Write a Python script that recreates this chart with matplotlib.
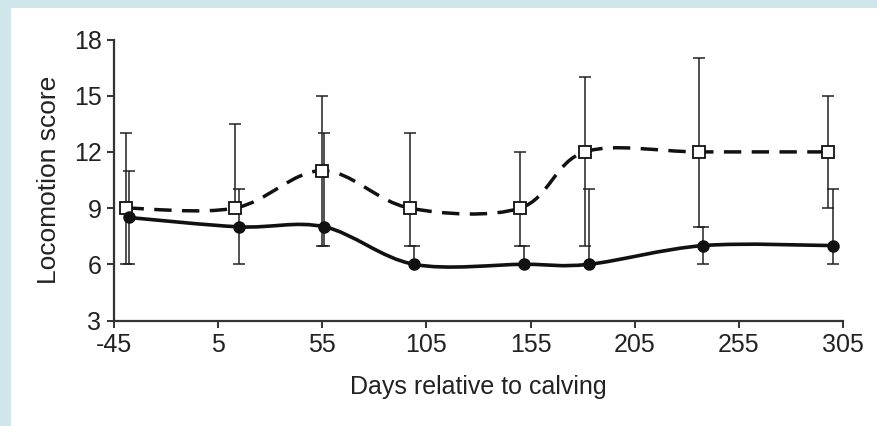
import matplotlib.pyplot as plt
from matplotlib.path import Path
from matplotlib.patches import PathPatch, Rectangle

plt.rcParams['font.family'] = ['Liberation Sans Narrow', 'Liberation Sans', 'DejaVu Sans']

# open squares (dashed line)
sq_days = [-39, 13, 55, 97, 150, 181, 236, 298]
sq_score = [9, 9, 11, 9, 9, 12, 12, 12]
sq_up = [13, 13.5, 15, 13, 12, 16, 17, 15]
sq_lo = [6, 9, 7, 7, 7, 7, 8, 9]

# filled circles (solid line)
ci_days = [-38, 15, 56, 99, 152, 183, 238, 300]
ci_score = [8.5, 8, 8, 6, 6, 6, 7, 7]
ci_up = [11, 10, 13, 7, 7, 10, 8, 10]
ci_lo = [6, 6, 7, 6, 6, 6, 6, 6]

xticks = [-45, 5, 55, 105, 155, 205, 255, 305]
yticks = [3, 6, 9, 12, 15, 18]


def smooth_path(xs, ys):
    # excel-style smoothed line as cubic bezier segments
    pts = list(zip(xs, ys))
    verts = [pts[0]]
    codes = [Path.MOVETO]
    n = len(pts)
    for i in range(n - 1):
        p0 = pts[i - 1] if i > 0 else pts[i]
        p1 = pts[i]
        p2 = pts[i + 1]
        p3 = pts[i + 2] if i + 2 < n else pts[i + 1]
        c1 = (p1[0] + (p2[0] - p0[0]) / 6, p1[1] + (p2[1] - p0[1]) / 6)
        c2 = (p2[0] - (p3[0] - p1[0]) / 6, p2[1] - (p3[1] - p1[1]) / 6)
        verts += [c1, c2, p2]
        codes += [Path.CURVE4] * 3
    return Path(verts, codes)


fig = plt.figure(figsize=(8.77, 4.26), dpi=100, facecolor='#cfe7eb')
bg = Rectangle((11 / 877, 0), 1, 1 - 8 / 426, transform=fig.transFigure,
               facecolor='white', edgecolor='none', zorder=-5)
fig.patches.append(bg)
ax = fig.add_axes([114 / 877, 1 - 320.5 / 426, (843 - 114) / 877, (320.5 - 39.5) / 426])
ax.set_zorder(5)
ax.set_facecolor('none')

ax.errorbar(sq_days, sq_score,
            yerr=[[s - l for s, l in zip(sq_score, sq_lo)], [u - s for s, u in zip(sq_score, sq_up)]],
            fmt='none', ecolor='#222222', elinewidth=1.1, capsize=4.5, capthick=1.1, zorder=2)
ax.errorbar(ci_days, ci_score,
            yerr=[[s - l for s, l in zip(ci_score, ci_lo)], [u - s for s, u in zip(ci_score, ci_up)]],
            fmt='none', ecolor='#222222', elinewidth=1.1, capsize=4.5, capthick=1.1, zorder=2)

ax.add_patch(PathPatch(smooth_path(sq_days, sq_score), facecolor='none', edgecolor='#111111',
                       lw=2.5, linestyle=(0, (5, 3)), zorder=3))
ax.add_patch(PathPatch(smooth_path(ci_days, ci_score), facecolor='none', edgecolor='#111111',
                       lw=2.6, zorder=3))

ax.plot(sq_days, sq_score, 's', ms=8.5, mfc='white', mec='#111111', mew=1.3, zorder=4)
ax.plot(ci_days, ci_score, 'o', ms=8, mfc='#111111', mec='#111111', zorder=4)

ax.set_xlim(-45, 305)
ax.set_ylim(3, 18)
ax.set_xticks(xticks)
ax.set_xticklabels([str(t) for t in xticks])
ax.set_yticks(yticks)
for s in ['top', 'right']:
    ax.spines[s].set_visible(False)
for s in ['left', 'bottom']:
    ax.spines[s].set_color('#333333')
    ax.spines[s].set_linewidth(1.6)
ax.tick_params(direction='out', length=5, width=1.4, color='#333333',
               labelsize=18, labelcolor='#222222', pad=4)

ax.set_xlabel('Days relative to calving', fontsize=18, color='#222222', labelpad=13)
ax.set_ylabel('Locomotion score', fontsize=19, color='#222222', labelpad=9)

fig.savefig('out.png', dpi=100, facecolor=fig.get_facecolor())
